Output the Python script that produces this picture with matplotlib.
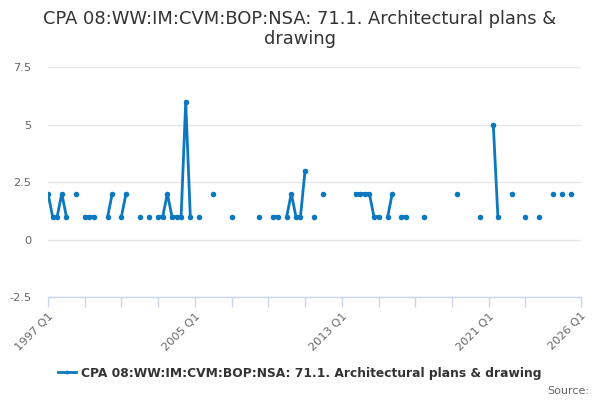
import numpy as np
import matplotlib
matplotlib.use("Agg")
import matplotlib.pyplot as plt

N = None
start_year = 1997
# quarterly values starting 1997 Q1 (None = no data)
values = [2, 1, 1, 2, 1, N, 2, N, 1, 1, 1, N, N, 1, 2, N, 1, 2, N, N,
          1, N, 1, N, 1, 1, 2, 1, 1, 1, 6, 1, N, 1, N, N, 2, N, N, N,
          1, N, N, N, N, N, 1, N, N, 1, 1, N, 1, 2, 1, 1, 3, N, 1, N,
          2, N, N, N, N, N, N, 2, 2, 2, 2, 1, 1, N, 1, 2, N, 1, 1, N,
          N, N, 1, N, N, N, N, N, N, 2, N, N, N, N, 1, N, N, 5, 1, N,
          N, 2, N, N, 1, N, N, 1, N, N, 2, N, 2, N, 2]
tick_labels = ["1997 Q1", "2005 Q1", "2013 Q1", "2021 Q1", "2026 Q1"]
y_ticks = [-2.5, 0, 2.5, 5, 7.5]
y_tick_labels = ["-2.5", "0", "2.5", "5", "7.5"]
series_name = "CPA 08:WW:IM:CVM:BOP:NSA: 71.1. Architectural plans & drawing"
title = "CPA 08:WW:IM:CVM:BOP:NSA: 71.1. Architectural plans &\ndrawing"

def qindex(label):
    y, q = label.split(" Q")
    return (int(y) - start_year) * 4 + int(q) - 1

y = np.array([np.nan if v is None else v for v in values], dtype=float)
x = np.arange(len(y))

color = "#0b78bf"
fig = plt.figure(figsize=(6, 4), dpi=100)
ax = fig.add_axes([48/600, 1-297/400, (580.5-48)/600, (297-67)/400])

ax.plot(x, y, color=color, lw=2, marker="o", ms=4, mew=0, zorder=3,
        label=series_name)

ax.set_xlim(0, qindex("2026 Q1"))
ax.set_ylim(-2.5, 7.5)

# x ticks: every 2 years until 2023 plus end tick
major = list(range(0, qindex("2024 Q1"), 8)) + [qindex("2026 Q1")]
lab_pos = {qindex(l): l for l in tick_labels}
ax.set_xticks(major)
ax.set_xticklabels([lab_pos.get(m, "") for m in major], rotation=45,
                   ha="right", rotation_mode="anchor", color="#666666",
                   fontsize=8.2)
ax.tick_params(axis="x", length=7, color="#ccd6eb", width=1, pad=3)

ax.set_yticks(y_ticks)
ax.set_yticklabels(y_tick_labels, color="#666666", fontsize=8.2)
ax.tick_params(axis="y", length=0, pad=12)
ax.grid(axis="y", color="#e6e6e6", lw=1)
ax.set_axisbelow(True)
for s in ["top", "right", "left"]:
    ax.spines[s].set_visible(False)
ax.spines["bottom"].set_color("#ccd6eb")
ax.spines["bottom"].set_linewidth(1)

fig.text(0.5, 1-29/400, title, ha="center", va="center", fontsize=12.9,
         color="#333333", linespacing=1.15)

leg = fig.legend(loc="center", bbox_to_anchor=(0.5, 1-373/400), frameon=False,
                 prop={"weight": "bold", "size": 8.8}, handlelength=1.5,
                 handletextpad=0.4, markerscale=0.7)
for t in leg.get_texts():
    t.set_color("#333333")

fig.text(589/600, 1-391/400, "Source:", ha="right", va="center",
         fontsize=8, color="#666666")

fig.savefig("out.png", dpi=100)
